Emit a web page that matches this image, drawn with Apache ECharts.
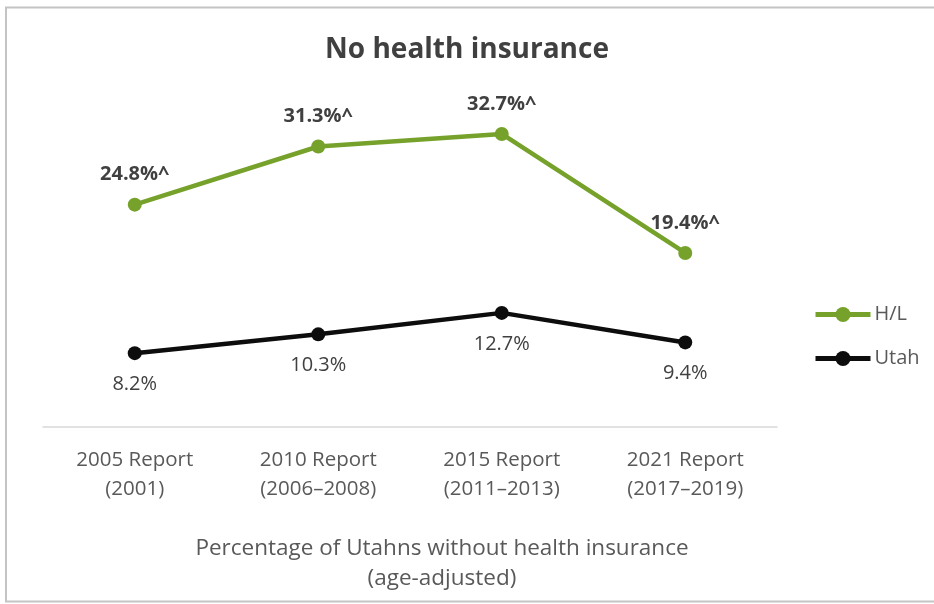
<!DOCTYPE html>
<html>
<head>
<meta charset="utf-8">
<script src="https://cdn.jsdelivr.net/npm/echarts@6/dist/echarts.min.js"></script>
<style>
html,body{margin:0;padding:0;background:#fff;}
#c{width:934px;height:604px;}
</style>
</head>
<body>
<div id="c"></div>
<script>
var categories = ['2005 Report\n(2001)', '2010 Report\n(2006–2008)', '2015 Report\n(2011–2013)', '2021 Report\n(2017–2019)'];
var hlValues = [24.8, 31.3, 32.7, 19.4];
var utahValues = [8.2, 10.3, 12.7, 9.4];
var hlLabels = ['24.8%^', '31.3%^', '32.7%^', '19.4%^'];
var utahLabels = ['8.2%', '10.3%', '12.7%', '9.4%'];

var FONT = '"Open Sans", "Noto Sans", sans-serif';
var GREEN = '#76A22B';
var BLACK = '#0d0d0d';
var TXT = '#404040';

var chart = echarts.init(document.getElementById('c'), null, {renderer: 'canvas'});
chart.setOption({
  backgroundColor: '#ffffff',
  animation: false,
  textStyle: {fontFamily: FONT},
  title: {
    text: 'No health insurance',
    left: 462, top: 31, textAlign: 'center',
    textStyle: {fontFamily: FONT, fontSize: 28, fontWeight: 'bold', color: TXT}
  },
  legend: {
    orient: 'vertical',
    left: 808, top: 297,
    itemWidth: 55, itemHeight: 19,
    itemGap: 19,
    lineStyle: {width: 5},
    textStyle: {fontFamily: FONT, fontSize: 20, lineHeight: 25, color: '#595959', padding: [0,0,0,-1]},
    data: [
      {name: 'H/L', lineStyle: {width: 5, color: GREEN}},
      {name: 'Utah', lineStyle: {width: 5, color: BLACK}}
    ]
  },
  grid: {left: 43, right: 157, top: 113.4, bottom: 177.5, containLabel: false},
  xAxis: {
    type: 'category',
    data: categories,
    boundaryGap: true,
    axisLine: {show: true, lineStyle: {color: '#d9d9d9', width: 1.5}},
    axisTick: {show: false},
    axisLabel: {fontFamily: FONT, fontSize: 20.5, color: '#595959', lineHeight: 29, margin: 19}
  },
  yAxis: {
    type: 'value', min: 0, max: 35,
    show: false,
    splitLine: {show: false}
  },
  graphic: [
    {type: 'rect', shape: {x: 6, y: 7.5, width: 940, height: 594}, style: {fill: 'none', stroke: '#c4c4c4', lineWidth: 2}, silent: true},
    {type: 'text', style: {
      text: 'Percentage of Utahns without health insurance\n(age-adjusted)',
      x: 442, y: 534, textAlign: 'center', fontFamily: FONT, fontSize: 22.5, lineHeight: 30, fill: '#595959'
    }}
  ],
  series: [
    {
      name: 'H/L', type: 'line', data: hlValues,
      symbol: 'circle', symbolSize: 14,
      lineStyle: {color: GREEN, width: 4.5},
      itemStyle: {color: GREEN},
      label: {show: true, position: 'top', distance: 13,
        formatter: function(p){return hlLabels[p.dataIndex];},
        fontFamily: FONT, fontSize: 20, fontWeight: 'bold', color: TXT}
    },
    {
      name: 'Utah', type: 'line', data: utahValues,
      symbol: 'circle', symbolSize: 14,
      lineStyle: {color: BLACK, width: 4.5},
      itemStyle: {color: BLACK},
      label: {show: true, position: 'bottom', distance: 14,
        formatter: function(p){return utahLabels[p.dataIndex];},
        fontFamily: FONT, fontSize: 20, color: TXT}
    }
  ]
});
</script>
</body>
</html>
